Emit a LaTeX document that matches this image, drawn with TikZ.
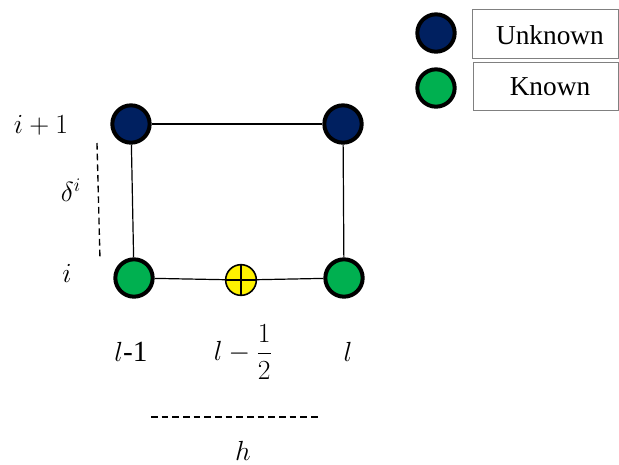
\documentclass[tikz,border=0pt]{standalone}
\usepackage{fontspec}
\usepackage{amsmath}
\setmainfont{Liberation Serif}
\definecolor{ublue}{HTML}{002060}
\definecolor{kgreen}{HTML}{00B050}
\begin{document}
\begin{tikzpicture}[x=0.75pt,y=-0.75pt,
  dot/.style={circle,draw=black,line width=3pt,minimum size=28pt,inner sep=0pt},
  half/.style={circle,draw=black,line width=1.2pt,fill=yellow,minimum size=23pt,inner sep=0pt},
  lbl/.style={font=\fontsize{22}{26}\selectfont,inner sep=0pt},
  txt/.style={font=\fontsize{20.5}{24}\selectfont,inner sep=0pt},
  legbox/.style={draw=gray,line width=0.6pt},
  edge/.style={line width=0.9pt},
  dashln/.style={dash pattern=on 5pt off 3pt,line width=1pt}]
\useasboundingbox (0,0) rectangle (619,465);
% grid nodes
\node[dot,fill=ublue] (tl) at (131,124) {};
\node[dot,fill=ublue] (tr) at (343,124) {};
\node[dot,fill=kgreen] (bl) at (134,278) {};
\node[dot,fill=kgreen] (br) at (344,278) {};
\node[half] (m) at (241,280) {};
\draw[line width=1.2pt] (m.north) -- (m.south) (m.west) -- (m.east);
\draw[edge] (tl) -- (tr);
\draw[edge] (tl) -- (bl);
\draw[edge] (tr) -- (br);
\draw[edge] (bl) -- (m);
\draw[edge] (m) -- (br);
% labels
\node[lbl] (ip1) at (41,125) {$i+1$};
\node[lbl] (del) at (71,190) {$\delta^i$};
\node[lbl] (ii) at (67,273) {$i$};
\node[lbl] (lm1) at (131,352) {$l$-1};
\node[lbl] (lh) at (243,352) {$l-\dfrac{1}{2}$};
\node[lbl] (ll) at (348,352) {$l$};
\node[lbl] (hh) at (243,451) {$h$};
\coordinate (dv1) at (97,143);
\coordinate (dv2) at (100,259);
\draw[dashln] (dv1) -- (dv2);
\coordinate (dh1) at (151,417);
\coordinate (dh2) at (318,417);
\draw[dashln] (dh1) -- (dh2);
% legend
\node[dot,fill=ublue] (lu) at (436,33) {};
\node[dot,fill=kgreen] (lk) at (436,88) {};
\draw[legbox] (472,9) rectangle (618.5,58);
\draw[legbox] (473,62) rectangle (618.5,110);
\node[txt] (tu) at (550,35) {Unknown};
\node[txt] (tk) at (550,87) {Known};
\end{tikzpicture}
\end{document}
